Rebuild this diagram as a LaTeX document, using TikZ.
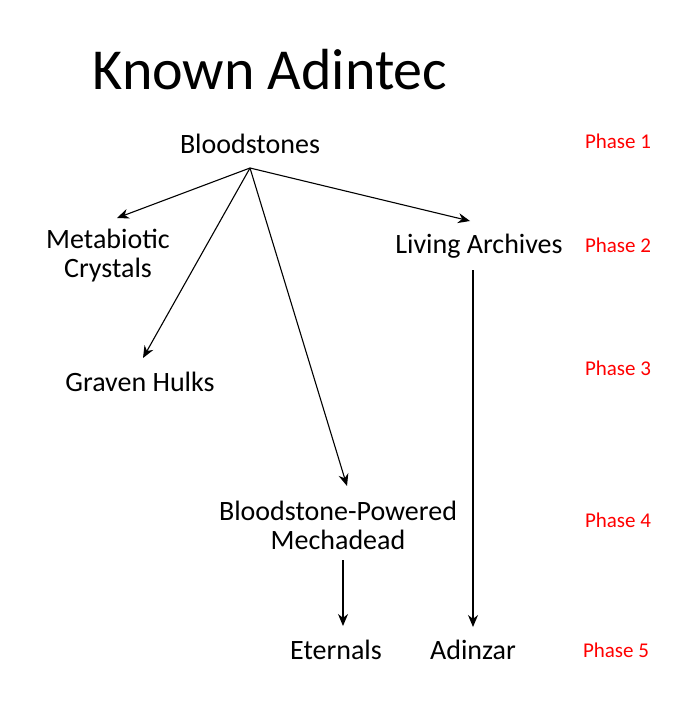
\documentclass[tikz,border=0pt]{standalone}
\usepackage{fontspec}
\setmainfont{Carlito}
\usetikzlibrary{arrows.meta,positioning}
\begin{document}
\begin{tikzpicture}[x=1pt,y=-1pt,>={Stealth[length=12pt,width=10pt]},line width=1.1pt,
  item/.style={font=\fontsize{28}{29}\selectfont,align=center,inner sep=1pt},
  phase/.style={font=\fontsize{21}{24}\selectfont,text=red,inner sep=1pt}]
  \useasboundingbox (0,0) rectangle (700,706);
  \node[font=\fontsize{58}{62}\selectfont] (title) at (270,70) {Known Adintec};
	
  \node[item] (BS)  at (250,144) {Bloodstones};
  \node[item] (MC)  at (108,256) {Metabiotic\\Crystals};
  \node[item] (LA)  at (479,246) {Living Archives};
  \node[item] (GH)  at (140,382) {Graven Hulks};
  \node[item] (BPM) at (338,525) {Bloodstone-Powered\\Mechadead};
  \node[item] (ET)  at (336,650) {Eternals};
  \node[item] (AD)  at (473,650) {Adinzar};
	
  \node[phase] (P1) at (618,141) {Phase 1};
  \node[phase] (P2) at (618,245) {Phase 2};
  \node[phase] (P3) at (618,368) {Phase 3};
  \node[phase] (P4) at (618,520) {Phase 4};
  \node[phase] (P5) at (616,650) {Phase 5};
	
  \coordinate (fan) at (250,168);
  \coordinate (MCin) at (117,218);
  \coordinate (GHin) at (143,358);
  \coordinate (BPMin) at (347,486);
  \coordinate (LAin) at (470,221);
	
  \draw[->] (fan) -- (MCin);
  \draw[->] (fan) -- (GHin);
  \draw[->] (fan) -- (BPMin);
  \draw[->] (fan) -- (LAin);
  \draw[->] (473,270) coordinate (LAout) -- (473,627) coordinate (ADin);
  \draw[->] (343,560) coordinate (BPMout) -- (343,626) coordinate (ETin);
\end{tikzpicture}
\end{document}
